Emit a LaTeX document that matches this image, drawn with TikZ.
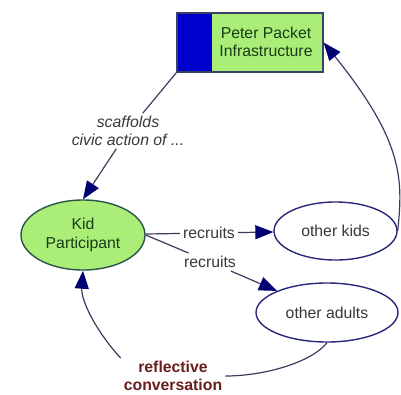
\documentclass[tikz,border=0pt]{standalone}
\usepackage{fontspec}
\setmainfont{Liberation Sans}
\usetikzlibrary{arrows.meta,shapes.geometric}
\definecolor{nodegreen}{RGB}{170,238,120}
\definecolor{sideblue}{RGB}{0,0,204}
\definecolor{greentext}{RGB}{25,60,25}
\definecolor{kidborder}{RGB}{40,85,70}
\definecolor{navyborder}{RGB}{40,40,125}
\definecolor{boxborder}{RGB}{55,65,105}
\definecolor{linkcol}{RGB}{60,60,95}
\definecolor{tipcol}{RGB}{0,0,115}
\definecolor{labelgray}{RGB}{55,55,55}
\definecolor{reflred}{RGB}{105,30,30}
\tikzset{
  basefont/.style={font=\fontsize{15.8}{18.5}\selectfont},
  greenell/.style={ellipse, draw=kidborder, line width=1.4pt, fill=nodegreen, text=greentext, inner sep=0pt, align=center, basefont},
  whiteell/.style={ellipse, draw=navyborder, line width=1.4pt, fill=white, text=labelgray, inner sep=0pt, align=center, basefont},
  linklabel/.style={text=labelgray, align=center, inner sep=3pt, basefont},
  link/.style={draw=linkcol, line width=1.2pt},
  arrowlink/.style={link, -{Triangle[length=18pt,width=14pt,fill=tipcol,color=tipcol]}},
}
\begin{document}
\begin{tikzpicture}[x=1pt,y=-1pt]
\useasboundingbox (0,0) rectangle (401,394);
% concept box
\node[rectangle, draw=boxborder, line width=1.2pt, fill=nodegreen, minimum width=146pt, minimum height=59pt, inner sep=0pt,
      path picture={\fill[sideblue] (path picture bounding box.north west) rectangle ([xshift=35pt]path picture bounding box.south west);}]
      (box) at (250,42.5) {};
\node[text=greentext, align=center, basefont, inner sep=0pt] (boxlabel) at (266,42) {Peter Packet\\Infrastructure};
% ellipses
\node[greenell, minimum width=124pt, minimum height=70pt] (kid) at (83,235) {Kid\\Participant};
\node[whiteell, minimum width=123pt, minimum height=58pt] (okids) at (335.5,231) {other kids};
\node[whiteell, minimum width=142pt, minimum height=59pt] (oadults) at (327,312.5) {other adults};
% link labels
\node[linklabel, font=\fontsize{15.8}{17.5}\selectfont\itshape] (scaf) at (128,131) {scaffolds\\civic action of ...};
\node[linklabel] (rec1) at (209,233) {recruits};
\node[linklabel] (rec2) at (210,262) {recruits};
\node[linklabel, text=reflred, font=\fontsize{15.8}{18}\selectfont\bfseries] (refl) at (173,376) {reflective\\conversation};
% connectors
\draw[link] (box.south west) -- (scaf);
\draw[arrowlink] (scaf) -- (kid.north);
\draw[link] (kid) -- (rec1);
\draw[arrowlink] (rec1) -- (okids);
\draw[link] (kid.east) -- (rec2);
\draw[arrowlink] (rec2) -- (oadults);
\draw[arrowlink] (okids.east) .. controls (403,180) and (404,142) .. (box.east);
\draw[link] (oadults.south) .. controls (312,362) and (265,376) .. (refl.east);
\draw[arrowlink] (refl.north west) .. controls (95,330) and (81,300) .. (kid.south);
\end{tikzpicture}
\end{document}
